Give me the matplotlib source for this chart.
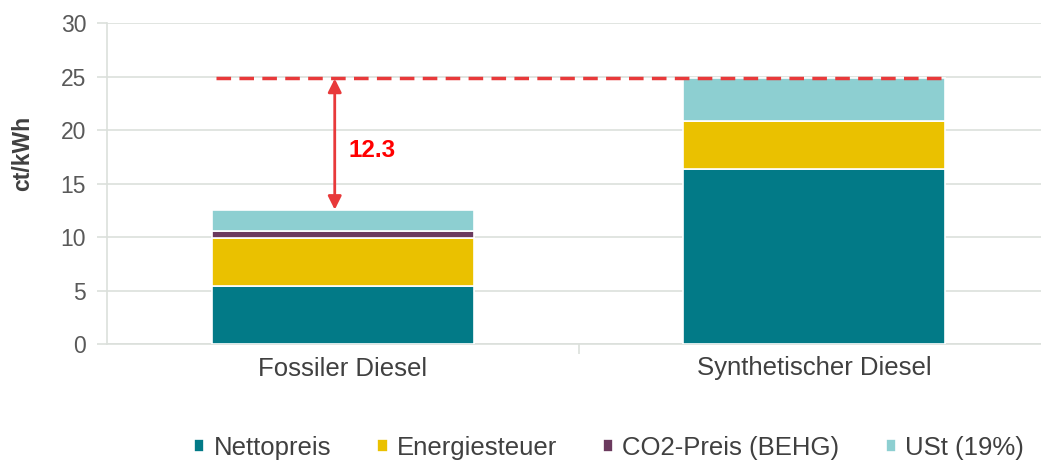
import matplotlib
matplotlib.use("Agg")
import matplotlib.pyplot as plt
import numpy as np

categories = ["Fossiler Diesel", "Synthetischer Diesel"]
series_names = ["Nettopreis", "Energiesteuer", "CO2-Preis (BEHG)", "USt (19%)"]
nettopreis = [5.4, 16.4]
energiesteuer = [4.5, 4.45]
co2_preis = [0.7, 0.0]
ust = [1.9, 4.0]
colors = ["#027A87", "#EAC100", "#6B3A5E", "#8DCFD1"]
ref_level = 24.85
diff_label = "12.3"
yticks = [0, 5, 10, 15, 20, 25, 30]

plt.rcParams['font.family'] = ['Liberation Sans', 'DejaVu Sans']

fig = plt.figure(figsize=(10.41, 4.61), dpi=100)
ax = fig.add_axes([107/1041, 1-344/461, (1050-107)/1041, (344-23)/461])

x = np.arange(len(categories))
w = 0.556
bottom = np.zeros(len(categories))
for vals, c, name in zip([nettopreis, energiesteuer, co2_preis, ust], colors, series_names):
    v = np.array(vals)
    ax.bar(x, v, w, bottom=bottom, color=c, edgecolor="white", linewidth=1.2, label=name, zorder=3)
    bottom += v

fossil_total = bottom[0]
ax.plot([x[0]-w/2 + 0.01, x[1]+w/2], [ref_level, ref_level], color="#E8393A", linestyle=(0, (4.2, 2.4)),
        linewidth=2.5, zorder=4)
ax.annotate("", xy=(x[0]-0.017, fossil_total+0.05), xytext=(x[0]-0.017, ref_level-0.05),
            arrowprops=dict(arrowstyle="<|-|>", color="#E8393A", lw=2, mutation_scale=20,
                            shrinkA=0, shrinkB=0), zorder=5)
ax.text(x[0]+0.013, 18.1, diff_label, color="#FF0000", fontsize=17.5, fontweight="bold",
        va="center", ha="left", zorder=5)

ax.set_xlim(-0.5, 1.5)
ax.set_ylim(0, 30)
ax.set_yticks(yticks)
ax.set_yticklabels([str(t) for t in yticks], fontsize=16.5, color="#595959")
ax.yaxis.grid(True, color="#DCE0DC", linewidth=1.2, zorder=0)
ax.set_axisbelow(True)
ax.tick_params(axis="y", length=7, color="#DCE0DC", width=1.2, pad=8)
ax.set_xticks(x)
ax.set_xticklabels(categories, fontsize=18.5, color="#404040")
ax.tick_params(axis="x", length=0, pad=9)
ax.set_xticks([0.5], minor=True)
ax.tick_params(axis="x", which="minor", length=7, color="#DCE0DC", width=1.2)
for s in ["top", "right"]:
    ax.spines[s].set_visible(False)
ax.spines["left"].set_color("#DCE0DC")
ax.spines["left"].set_linewidth(1.2)
ax.spines["bottom"].set_color("#DCE0DC")
ax.spines["bottom"].set_linewidth(1.2)
ax.set_ylabel("ct/kWh", fontsize=16.5, fontweight="bold", color="#404040")
ax.yaxis.set_label_coords(-(107-34)/943, (344-153)/321)

handles, labels = ax.get_legend_handles_labels()
fig.legend(handles, labels, loc="center", bbox_to_anchor=(609/1041, 1-448/461), ncol=4,
           frameon=False, fontsize=18.5, handlelength=0.4, handleheight=0.4,
           handletextpad=0.35, columnspacing=1.8, labelcolor="#404040")

fig.savefig("out.png", dpi=100)
